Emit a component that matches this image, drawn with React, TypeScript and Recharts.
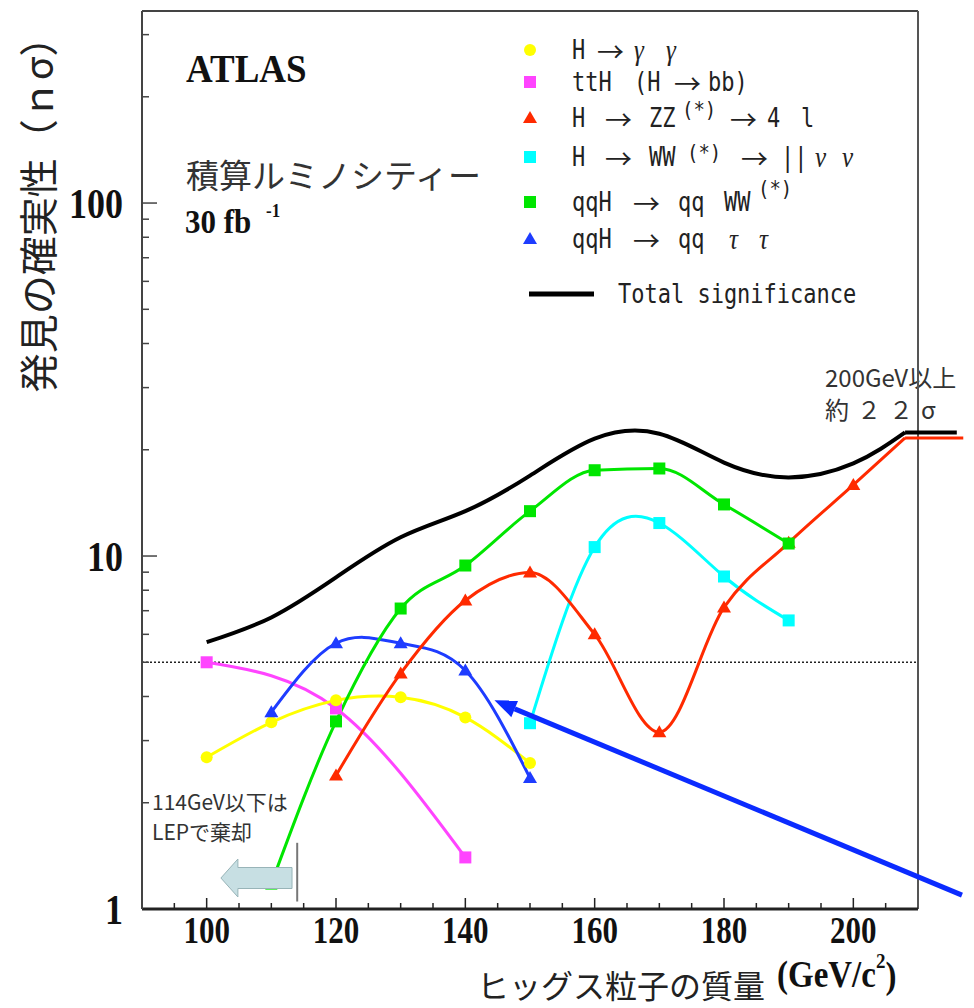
import React from 'react'
import { LineChart, Line, XAxis, YAxis, ReferenceLine, Legend, Customized } from 'recharts'

// Higgs mass (GeV/c^2) and discovery significance (n sigma)
const GG_MASS = [100, 110, 120, 130, 140, 150]
const GG_SIG = [2.69, 3.38, 3.9, 3.98, 3.49, 2.59]

const TTH_MASS = [100, 120, 140]
const TTH_SIG = [5.0, 3.7, 1.4]

const ZZ_MASS = [120, 130, 140, 150, 160, 170, 180, 190, 200, 208]
const ZZ_SIG = [2.39, 4.65, 7.48, 8.98, 6.0, 3.17, 7.15, 10.9, 15.9, 21.6]

const WW_MASS = [150, 160, 170, 180, 190]
const WW_SIG = [3.36, 10.6, 12.4, 8.75, 6.57]

const QQWW_MASS = [110, 120, 130, 140, 150, 160, 170, 180, 190]
const QQWW_SIG = [1.18, 3.4, 7.1, 9.4, 13.4, 17.5, 17.7, 14.0, 10.85]

const QQTT_MASS = [110, 120, 130, 140, 150]
const QQTT_SIG = [3.61, 5.66, 5.66, 4.74, 2.35]

const TOTAL_MASS = [100, 110, 120, 130, 140, 150, 160, 170, 180, 190, 200, 208]
const TOTAL_SIG = [5.7, 6.7, 8.7, 11.3, 13.4, 16.9, 21.5, 22.2, 18.4, 16.7, 18.3, 22.4]

// flat continuation past the frame (~22 sigma above 200 GeV)
const ZZ_PLATEAU = [208, 217]
const TOTAL_PLATEAU = [208, 216]

const FIVE_SIGMA = 5
const LEP_LIMIT = 114

const X_TICKS = [95, 100, 105, 110, 115, 120, 125, 130, 135, 140, 145, 150, 155, 160, 165, 170, 175, 180, 185, 190, 195, 200, 205]
const X_LABELS = [100, 120, 140, 160, 180, 200]
const Y_TICKS = [1, 2, 3, 4, 5, 6, 7, 8, 9, 10, 20, 30, 40, 50, 60, 70, 80, 90, 100, 200, 300]
const Y_LABELS = [1, 10, 100]

const SERIF = '"Liberation Serif", "Times New Roman", serif'
const CJK = '"Noto Sans CJK JP", "Noto Sans", sans-serif'
const MONO = '"DejaVu Sans Mono", "Liberation Mono", monospace'

const COLORS = {
  gg: '#ffff00',
  tth: '#ff44ff',
  zz: '#ff2a00',
  ww: '#00ffff',
  qqww: '#00e600',
  qqtt: '#1e3cff',
}

const toPoints = (mass: number[], sig: number[]) => mass.map((m, i) => ({ mass: m, sig: sig[i] }))

const Marker = ({ shape, cx, cy, color, size = 12 }: any) => {
  const h = size / 2
  if (shape === 'circle') return <circle cx={cx} cy={cy} r={h} fill={color} />
  if (shape === 'square') return <rect x={cx - h} y={cy - h} width={size} height={size} fill={color} />
  return (
    <polygon
      points={`${cx},${cy - h - 1} ${cx - h - 1},${cy + h - 1} ${cx + h + 1},${cy + h - 1}`}
      fill={color}
    />
  )
}

// markers only on the 10 GeV grid points
const makeDot = (shape: string, color: string) => (props: any) => {
  const { cx, cy, payload, index } = props
  if (payload.mass % 10 !== 0) return <g key={`d-${index}`} />
  return (
    <g key={`d-${index}`}>
      <Marker shape={shape} cx={cx} cy={cy} color={color} />
    </g>
  )
}

const XTick = (props: any) => {
  const { x, y, payload } = props
  const major = X_LABELS.includes(payload.value)
  return (
    <g>
      <line x1={x} x2={x} y1={y} y2={y - (major ? 11 : 6)} stroke="#222" strokeWidth={1.5} />
      {major && (
        <text
          transform={`translate(${x},${y + 22}) scale(1,1.19)`}
          textAnchor="middle"
          dominantBaseline="central"
          fontFamily={SERIF}
          fontWeight="bold"
          fontSize={31}
          fill="#111"
        >
          {payload.value}
        </text>
      )}
    </g>
  )
}

const YTick = (props: any) => {
  const { x, y, payload } = props
  const v = payload.value
  const major = Y_LABELS.includes(v)
  return (
    <g>
      {v !== 1 && <line x1={x} x2={x + (major ? 15 : 7)} y1={y} y2={y} stroke="#444" strokeWidth={1.5} />}
      {major && (
        <text
          transform={`translate(${x - 19},${y}) scale(1,1.17)`}
          textAnchor="end"
          dominantBaseline="central"
          fontFamily={SERIF}
          fontWeight="bold"
          fontSize={36}
          fill="#111"
        >
          {v}
        </text>
      )}
    </g>
  )
}

const BlueArrow = (props: any) => {
  const { x1, y1, x2, y2 } = props
  const a = Math.atan2(y2 - y1, x2 - x1)
  const len = 22
  const w = 9
  const bx = x2 - len * Math.cos(a)
  const by = y2 - len * Math.sin(a)
  const px = -Math.sin(a) * w
  const py = Math.cos(a) * w
  return (
    <g>
      <line x1={x1} y1={y1} x2={bx} y2={by} stroke="#0b2bff" strokeWidth={5} />
      <polygon points={`${x2},${y2} ${bx + px},${by + py} ${bx - px},${by - py}`} fill="#0b2bff" />
    </g>
  )
}

const BlockArrow = (props: any) => {
  const { x1, y1, x2 } = props
  const head = 17
  const pts = [
    [x2, y1],
    [x2 + head, y1 - 19],
    [x2 + head, y1 - 10.5],
    [x1, y1 - 10.5],
    [x1, y1 + 10.5],
    [x2 + head, y1 + 10.5],
    [x2 + head, y1 + 19],
  ]
  return <polygon points={pts.map((p) => p.join(',')).join(' ')} fill="#c7dfe3" stroke="#98b4b8" strokeWidth={1} />
}

const sText = (x: number, y: number, sx: number, sy: number) => `translate(${x},${y}) scale(${sx},${sy})`

const Annotations = () => (
  <g>
    <text
      transform={`translate(36,205) rotate(-90)`}
      textAnchor="middle"
      dominantBaseline="central"
      fontFamily={CJK}
      fontSize={39}
      fill="#222"
    >
      発見の確実性（ｎσ）
    </text>
    <text transform={sText(186, 82, 1, 1.1)} fontFamily={SERIF} fontWeight="bold" fontSize={37} fill="#111">
      ATLAS
    </text>
    <text x={186} y={188} fontFamily={CJK} fontSize={33} fill="#333">
      積算ルミノシティー
    </text>
    <text transform={sText(185, 233, 1, 1.1)} fontFamily={SERIF} fontWeight="bold" fontSize={31} fill="#111">
      30 fb
    </text>
    <text transform={sText(266, 217, 1, 1.1)} fontFamily={SERIF} fontWeight="bold" fontSize={17} fill="#111">
      -1
    </text>
    <text x={152} y={801} dominantBaseline="central" fontFamily={CJK} fontSize={21} fill="#333">
      114GeV以下は
    </text>
    <text x={152} y={831} dominantBaseline="central" fontFamily={CJK} fontSize={21} fill="#333">
      LEPで棄却
    </text>
    <text x={825} y={376} dominantBaseline="central" fontFamily={CJK} fontSize={24} fill="#333">
      200GeV以上
    </text>
    <text x={825} y={408} dominantBaseline="central" fontFamily={CJK} fontSize={24} letterSpacing={8} fill="#333">
      約２２σ
    </text>
    <text x={477} y={984} dominantBaseline="central" fontFamily={CJK} fontSize={32} fill="#222">
      ヒッグス粒子の質量
    </text>
    <text transform={sText(777, 975, 1, 1.12)} dominantBaseline="central" fontFamily={SERIF} fontWeight="bold" fontSize={33} fill="#111">
      (GeV/c
      <tspan fontSize={19} dy={-13}>2</tspan>
      <tspan dy={13}>)</tspan>
    </text>
  </g>
)

// legend rows: marker, then [text, x, raise, kind]
const LEGEND_ROWS: any[] = [
  { shape: 'circle', color: COLORS.gg, y: 50, toks: [['H', 572], ['→', 597, 0, 'arrow'], ['γ', 634, 0, 'greek'], ['γ', 666, 0, 'greek']] },
  { shape: 'square', color: COLORS.tth, y: 82, toks: [['ttH', 572], ['(H', 634], ['→', 674, 0, 'arrow'], ['bb)', 708]] },
  {
    shape: 'triangle',
    color: COLORS.zz,
    y: 118,
    toks: [['H', 572], ['→', 605, 0, 'arrow'], ['ZZ', 649], ['(*)', 682, -8, 'sup'], ['→', 730, 0, 'arrow'], ['4', 767], ['l', 801]],
  },
  {
    shape: 'square',
    color: COLORS.ww,
    y: 157,
    toks: [['H', 572], ['→', 605, 0, 'arrow'], ['WW', 649], ['(*)', 687, -4, 'sup'], ['→', 741, 0, 'arrow'], ['||', 781], ['ν', 815, 0, 'greek'], ['ν', 842, 0, 'greek']],
  },
  { shape: 'square', color: COLORS.qqww, y: 202, toks: [['qqH', 572], ['→', 633, 0, 'arrow'], ['qq', 678], ['WW', 724], ['(*)', 758, -13, 'sup']] },
  { shape: 'triangle', color: COLORS.qqtt, y: 239, toks: [['qqH', 572], ['→', 633, 0, 'arrow'], ['qq', 678], ['τ', 729, 0, 'greek'], ['τ', 759, 0, 'greek']] },
]

const LegendTok = ({ t, x, y, kind }: any) => {
  if (kind === 'arrow')
    return (
      <text x={x} y={y} dominantBaseline="central" fontFamily={CJK} fontSize={27} fill="#222">
        {t}
      </text>
    )
  if (kind === 'greek')
    return (
      <text transform={sText(x, y, 1, 1.15)} dominantBaseline="central" fontFamily={SERIF} fontStyle="italic" fontSize={25} fill="#222">
        {t}
      </text>
    )
  return (
    <text
      transform={sText(x, y, 1, kind === 'sup' ? 1.15 : 1.2)}
      dominantBaseline="central"
      fontFamily={MONO}
      fontSize={kind === 'sup' ? 19 : 22}
      fill="#222"
    >
      {t}
    </text>
  )
}

const LegendBox = () => (
  <svg width={974} height={320} style={{ overflow: 'visible', display: 'block' }}>
    {LEGEND_ROWS.map((row, i) => (
      <g key={i}>
        <Marker shape={row.shape} cx={530} cy={row.y} color={row.color} />
        {row.toks.map(([t, x, dy, kind]: any, j: number) => (
          <LegendTok key={j} t={t} x={x} y={row.y + (dy || 0)} kind={kind} />
        ))}
      </g>
    ))}
    <line x1={529} x2={594} y1={294} y2={294} stroke="#000" strokeWidth={5} />
    <LegendTok t="Total significance" x={618} y={294} />
  </svg>
)

export default function App() {
  return (
    <div style={{ position: 'absolute', left: 0, top: 0, width: 974, height: 1008, background: '#fff', fontFamily: CJK }}>
      <LineChart width={974} height={1008} margin={{ top: 11, right: 56, bottom: 39, left: 62 }}>
        <XAxis
          dataKey="mass"
          type="number"
          domain={[90, 210]}
          allowDataOverflow
          ticks={X_TICKS}
          interval={0}
          tick={XTick}
          tickLine={false}
          tickSize={0}
          tickMargin={0}
          height={60}
          axisLine={{ stroke: '#222', strokeWidth: 3 }}
        />
        <YAxis
          dataKey="sig"
          type="number"
          scale="log"
          domain={[1, 350]}
          allowDataOverflow
          ticks={Y_TICKS}
          interval={0}
          tick={YTick}
          tickLine={false}
          tickSize={0}
          tickMargin={0}
          width={80}
          axisLine={{ stroke: '#444', strokeWidth: 2 }}
        />
        <ReferenceLine y={350} stroke="#444" strokeWidth={2} />
        <ReferenceLine x={210} stroke="#555" strokeWidth={2} />
        <ReferenceLine y={FIVE_SIGMA} stroke="#222" strokeWidth={1.5} strokeDasharray="2 2" />

        <Line data={toPoints(TOTAL_MASS, TOTAL_SIG)} dataKey="sig" type="natural" stroke="#000" strokeWidth={4} dot={false} isAnimationActive={false} />
        <Line data={toPoints(TTH_MASS, TTH_SIG)} dataKey="sig" type="natural" stroke={COLORS.tth} strokeWidth={3} dot={makeDot('square', COLORS.tth)} isAnimationActive={false} />
        <Line data={toPoints(GG_MASS, GG_SIG)} dataKey="sig" type="natural" stroke={COLORS.gg} strokeWidth={3} dot={makeDot('circle', COLORS.gg)} isAnimationActive={false} />
        <Line data={toPoints(QQTT_MASS, QQTT_SIG)} dataKey="sig" type="natural" stroke={COLORS.qqtt} strokeWidth={3} dot={makeDot('triangle', COLORS.qqtt)} isAnimationActive={false} />
        <Line data={toPoints(WW_MASS, WW_SIG)} dataKey="sig" type="natural" stroke={COLORS.ww} strokeWidth={3} dot={makeDot('square', COLORS.ww)} isAnimationActive={false} />
        <Line data={toPoints(ZZ_MASS, ZZ_SIG)} dataKey="sig" type="monotone" stroke={COLORS.zz} strokeWidth={3} dot={makeDot('triangle', COLORS.zz)} isAnimationActive={false} />
        <Line data={toPoints(QQWW_MASS, QQWW_SIG)} dataKey="sig" type="monotone" stroke={COLORS.qqww} strokeWidth={3} dot={makeDot('square', COLORS.qqww)} isAnimationActive={false} />

        <ReferenceLine
          segment={[{ x: TOTAL_PLATEAU[0], y: TOTAL_SIG[TOTAL_SIG.length - 1] }, { x: TOTAL_PLATEAU[1], y: TOTAL_SIG[TOTAL_SIG.length - 1] }]}
          stroke="#000"
          strokeWidth={4}
          ifOverflow="visible"
        />
        <ReferenceLine
          segment={[{ x: ZZ_PLATEAU[0], y: ZZ_SIG[ZZ_SIG.length - 1] }, { x: ZZ_PLATEAU[1], y: ZZ_SIG[ZZ_SIG.length - 1] }]}
          stroke={COLORS.zz}
          strokeWidth={3}
          ifOverflow="visible"
        />
        <ReferenceLine segment={[{ x: LEP_LIMIT, y: 1.05 }, { x: LEP_LIMIT, y: 1.54 }]} stroke="#777" strokeWidth={2} ifOverflow="visible" />
        <ReferenceLine segment={[{ x: 113.2, y: 1.224 }, { x: 102.2, y: 1.224 }]} shape={BlockArrow} ifOverflow="visible" zIndex={1000} />
        <ReferenceLine segment={[{ x: 216.8, y: 1.095 }, { x: 144.5, y: 3.9 }]} shape={BlueArrow} ifOverflow="visible" zIndex={1000} />

        <Customized component={Annotations} />
        <Legend
          content={LegendBox}
          layout="horizontal"
          verticalAlign="middle"
          align="center"
          wrapperStyle={{ left: 0, top: 0, width: 974, height: 320, pointerEvents: 'none' }}
        />
      </LineChart>
    </div>
  )
}
